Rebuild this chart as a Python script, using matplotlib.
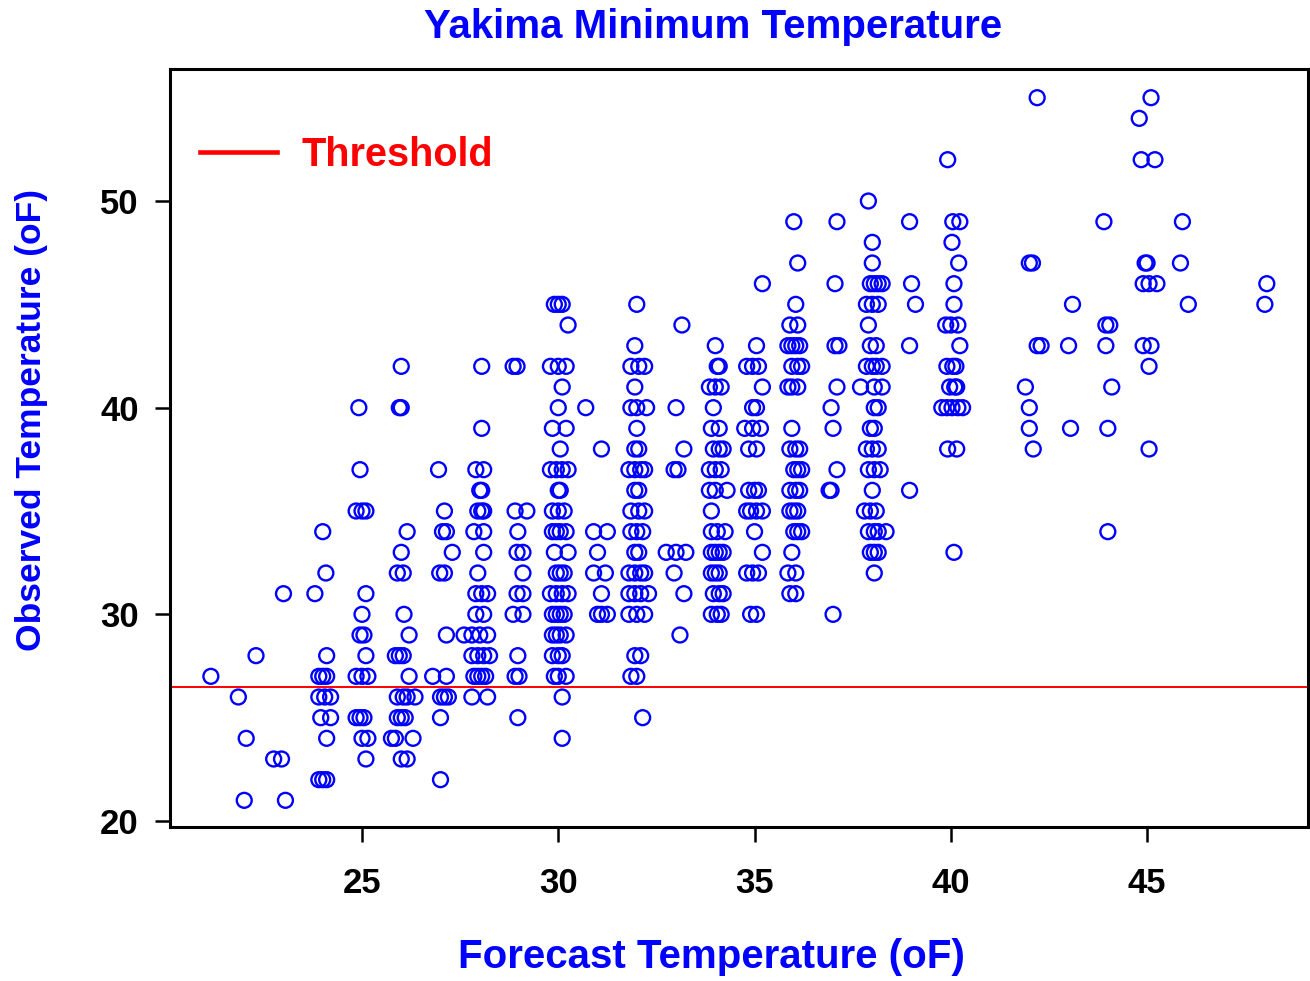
import matplotlib
matplotlib.use("Agg")
import matplotlib.pyplot as plt

# Pronóstico vs. observado (temperatura mínima, Yakima), leído columna a columna
pronostico = [
    # ~21-23
    21.15, 21.85, 22.05, 22.0, 22.3, 22.75, 22.95, 23.05, 23.0,
    # 24
    24.0, 24.08, 23.8, 24.1, 23.9, 24.0, 24.1, 23.9, 24.05, 24.2, 23.95, 24.2, 24.1, 23.9, 24.0, 24.1,
    # 25
    24.92, 24.95, 24.85, 25.0, 25.1, 25.1, 25.0, 24.95, 25.05, 25.1, 24.85, 25.0, 25.15, 24.85, 24.95,
    25.05, 25.0, 25.15, 25.1,
    # 26
    26.0, 25.95, 26.0, 26.15, 26.0, 25.9, 26.05, 26.07, 26.2, 25.85, 25.95, 26.05, 26.2, 25.9, 26.05,
    26.15, 26.35, 25.9, 26.0, 26.1, 25.75, 25.85, 26.3, 26.0, 26.15,
    # 27
    26.95, 27.1, 27.05, 27.15, 27.3, 26.98, 27.1, 27.15, 26.8, 27.15, 27.0, 27.1, 27.2, 27.0, 27.0,
    # 28
    28.05, 28.05, 27.9, 28.1, 28.0, 28.05, 27.95, 28.05, 28.1, 27.85, 28.1, 28.1, 27.95, 27.9, 28.05,
    28.2, 27.9, 28.1, 27.6, 27.8, 28.0, 28.2, 27.8, 27.95, 28.1, 28.25, 27.85, 27.95, 28.05, 28.15,
    27.8, 28.2,
    # 29
    28.85, 28.95, 28.9, 29.2, 28.97, 28.95, 29.1, 29.1, 28.95, 29.1, 28.85, 29.1, 28.97, 28.9, 29.0, 28.97,
    # 30
    29.9, 30.0, 30.1, 30.25, 29.8, 30.0, 30.2, 30.1, 30.0, 29.85, 30.2, 30.05, 29.8, 29.95, 30.1,
    30.25, 30.0, 30.05, 29.85, 30.0, 30.15, 29.85, 29.95, 30.05, 30.2, 29.9, 30.25, 29.95, 30.05, 30.15,
    29.8, 29.95, 30.1, 30.25, 29.85, 29.95, 30.05, 30.15, 29.85, 29.95, 30.05, 30.2, 29.85, 30.0, 30.1,
    29.9, 30.0, 30.2, 30.1, 30.1,
    # 31
    30.7, 31.1, 30.9, 31.25, 31.0, 30.9, 31.2, 31.1, 31.0, 31.1, 31.25,
    # 32
    32.0, 31.95, 31.85, 32.05, 32.2, 31.95, 31.85, 32.0, 32.25, 32.0, 31.95, 32.05, 31.8, 31.95, 32.1,
    32.2, 31.95, 32.05, 31.85, 32.05, 32.2, 31.85, 32.0, 32.15, 31.95, 32.05, 31.8, 31.95, 32.1, 32.2,
    31.8, 31.95, 32.1, 32.3, 31.8, 32.0, 32.2, 31.95, 32.1, 31.85, 32.0, 32.15,
    # 33
    33.15, 33.0, 33.2, 32.95, 33.05, 32.75, 33.0, 33.25, 32.95, 33.2, 33.1,
    # 34
    34.0, 34.05, 34.1, 33.85, 34.0, 34.15, 33.95, 33.9, 34.1, 33.95, 34.1, 34.2, 33.85, 34.0, 34.15,
    33.85, 34.0, 34.3, 33.9, 33.9, 34.05, 34.25, 33.9, 34.0, 34.1, 34.2, 33.9, 34.0, 34.1, 33.95,
    34.1, 34.2, 33.9, 34.05, 34.15,
    # 35
    35.2, 35.05, 34.8, 34.95, 35.1, 35.2, 34.95, 35.05, 34.75, 34.95, 35.15, 34.85, 35.05, 34.85, 35.0,
    35.1, 34.8, 34.9, 35.05, 35.2, 35.0, 35.2, 34.8, 34.95, 35.1, 34.9, 35.05,
    # 36
    36.0, 36.1, 36.05, 35.9, 36.1, 35.85, 35.95, 36.05, 36.15, 35.95, 36.1, 36.2, 35.85, 35.95, 36.1,
    35.95, 35.9, 36.05, 36.15, 36.0, 36.1, 36.2, 35.9, 36.05, 36.15, 35.9, 36.0, 36.1, 36.0, 36.1,
    36.2, 35.95, 35.85, 36.05, 35.9, 36.05,
    # 37
    37.1, 37.05, 37.05, 37.15, 37.1, 36.95, 37.0, 37.1, 36.9, 36.95, 37.0,
    # 38
    37.9, 38.0, 38.0, 37.95, 38.05, 38.15, 38.25, 37.85, 38.0, 38.15, 37.9, 37.95, 38.1, 37.85, 38.0,
    38.1, 38.25, 37.7, 38.05, 38.25, 38.05, 38.15, 37.95, 38.05, 37.85, 38.0, 38.15, 37.9, 38.05, 38.2,
    38.0, 37.8, 37.95, 38.1, 37.9, 38.05, 38.15, 38.35, 37.95, 38.05, 38.15, 38.05,
    # 39
    38.95, 39.0, 39.1, 38.95, 38.95,
    # 40
    39.92, 40.05, 40.23, 40.03, 40.2, 40.08, 40.08, 39.87, 40.0, 40.18, 40.23, 39.9, 40.05, 40.13,
    39.97, 40.1, 40.15, 39.77, 39.9, 40.03, 40.18, 40.3, 39.92, 40.15, 40.08,
    # 42
    42.2, 42.0, 42.08, 42.2, 42.3, 41.9, 42.0, 42.0, 42.1,
    # 43
    43.1, 43.0, 43.05,
    # 44
    43.9, 43.95, 44.05, 43.95, 44.1, 44.0, 44.0,
    # 45
    45.1, 44.8, 44.85, 45.2, 45.0, 44.95, 44.9, 45.05, 45.25, 44.9, 45.1, 45.05, 45.05,
    # 46
    45.9, 45.85, 46.05,
    # 48
    48.05, 48.0,
]

observado = [
    # ~21-23
    27, 26, 24, 21, 28, 23, 23, 21, 31,
    # 24
    34, 32, 31, 28, 27, 27, 27, 26, 26, 26, 25, 25, 24, 22, 22, 22,
    # 25
    40, 37, 35, 35, 35, 31, 30, 29, 29, 28, 27, 27, 27, 25, 25, 25, 24, 24, 23,
    # 26
    42, 40, 40, 34, 33, 32, 32, 30, 29, 28, 28, 28, 27, 26, 26, 26, 26, 25, 25, 25, 24, 24, 24, 23, 23,
    # 27
    37, 35, 34, 34, 33, 32, 32, 29, 27, 27, 26, 26, 26, 25, 22,
    # 28
    42, 39, 37, 37, 36, 36, 35, 35, 35, 34, 34, 33, 32, 31, 31, 31, 30, 30, 29, 29, 29, 29, 28, 28,
    28, 28, 27, 27, 27, 27, 26, 26,
    # 29
    42, 42, 35, 35, 34, 33, 33, 32, 31, 31, 30, 30, 28, 27, 27, 25,
    # 30
    45, 45, 45, 44, 42, 42, 42, 41, 40, 39, 39, 38, 37, 37, 37, 37, 36, 36, 35, 35, 35, 34, 34, 34,
    34, 33, 33, 32, 32, 32, 31, 31, 31, 31, 30, 30, 30, 30, 29, 29, 29, 29, 28, 28, 28, 27, 27, 27,
    26, 24,
    # 31
    40, 38, 34, 34, 33, 32, 32, 31, 30, 30, 30,
    # 32
    45, 43, 42, 42, 42, 41, 40, 40, 40, 39, 38, 38, 37, 37, 37, 37, 36, 36, 35, 35, 35, 34, 34, 34,
    33, 33, 32, 32, 32, 32, 31, 31, 31, 31, 30, 30, 30, 28, 28, 27, 27, 25,
    # 33
    44, 40, 38, 37, 37, 33, 33, 33, 32, 31, 29,
    # 34
    43, 42, 42, 41, 41, 41, 40, 39, 39, 38, 38, 38, 37, 37, 37, 36, 36, 36, 35, 34, 34, 34, 33, 33,
    33, 33, 32, 32, 32, 31, 31, 31, 30, 30, 30,
    # 35
    46, 43, 42, 42, 42, 41, 40, 40, 39, 39, 39, 38, 38, 36, 36, 36, 35, 35, 35, 35, 34, 33, 32, 32,
    32, 30, 30,
    # 36
    49, 47, 45, 44, 44, 43, 43, 43, 43, 42, 42, 42, 41, 41, 41, 39, 38, 38, 38, 37, 37, 37, 36, 36,
    36, 35, 35, 35, 34, 34, 34, 33, 32, 32, 31, 31,
    # 37
    49, 46, 43, 43, 41, 40, 39, 37, 36, 36, 30,
    # 38
    50, 48, 47, 46, 46, 46, 46, 45, 45, 45, 44, 43, 43, 42, 42, 42, 42, 41, 41, 41, 40, 40, 39, 39,
    38, 38, 38, 37, 37, 37, 36, 35, 35, 35, 34, 34, 34, 34, 33, 33, 33, 32,
    # 39
    49, 46, 45, 43, 36,
    # 40
    52, 49, 49, 48, 47, 46, 45, 44, 44, 44, 43, 42, 42, 42, 41, 41, 41, 40, 40, 40, 40, 40, 38, 38, 33,
    # 42
    55, 47, 47, 43, 43, 41, 40, 39, 38,
    # 43
    45, 43, 39,
    # 44
    49, 44, 44, 43, 41, 39, 34,
    # 45
    55, 54, 52, 52, 47, 47, 46, 46, 46, 43, 43, 42, 38,
    # 46
    49, 47, 45,
    # 48
    46, 45,
]

umbral = 26.5
xticks = [25, 30, 35, 40, 45]
yticks = [20, 30, 40, 50]

plt.rcParams['font.family'] = ['Liberation Sans', 'DejaVu Sans']
plt.rcParams['font.weight'] = 'bold'

fig = plt.figure(figsize=(13.1, 9.81), dpi=100)
ax = fig.add_axes([0.1298, 0.157, 0.8687, 0.7727])

ax.scatter(pronostico, observado, s=115, facecolors='none', edgecolors='#0000ff', linewidths=1.7)
ax.axhline(umbral, color='#ff0000', linewidth=1.4, label='Threshold')

ax.set_xlim(20.11, 49.1)
ax.set_ylim(19.71, 56.39)
ax.set_xticks(xticks)
ax.set_yticks(yticks)
ax.tick_params(axis='both', direction='out', length=10.5, width=1.8, labelsize=25)
ax.tick_params(axis='x', pad=18)
ax.tick_params(axis='y', pad=12)
for lab in ax.get_xticklabels() + ax.get_yticklabels():
    lab.set_fontweight('bold')
for sp in ax.spines.values():
    sp.set_linewidth(2.2)

leg = ax.legend(loc='center left', bbox_to_anchor=(0.026, 0.887), frameon=False, fontsize=28.5,
                handlelength=1.95, handletextpad=0.62, borderpad=0, borderaxespad=0,
                labelcolor='#ff0000')
for t in leg.get_texts():
    t.set_fontweight('bold')
for h in leg.get_lines():
    h.set_linewidth(3.3)

fig.text(713 / 1310, 1 - 27 / 981, 'Yakima Minimum Temperature', color='#0000ff', fontsize=29,
         fontweight='bold', ha='center', va='center')
fig.text(711 / 1310, 1 - 957 / 981, 'Forecast Temperature (oF)', color='#0000ff', fontsize=29,
         fontweight='bold', ha='center', va='center')
fig.text(32 / 1310, 1 - 420 / 981, 'Observed Temperature (oF)', color='#0000ff', fontsize=25.5,
         fontweight='bold', ha='center', va='center', rotation=90)

assert len(pronostico) == len(observado)
fig.savefig('out.png', dpi=100)
